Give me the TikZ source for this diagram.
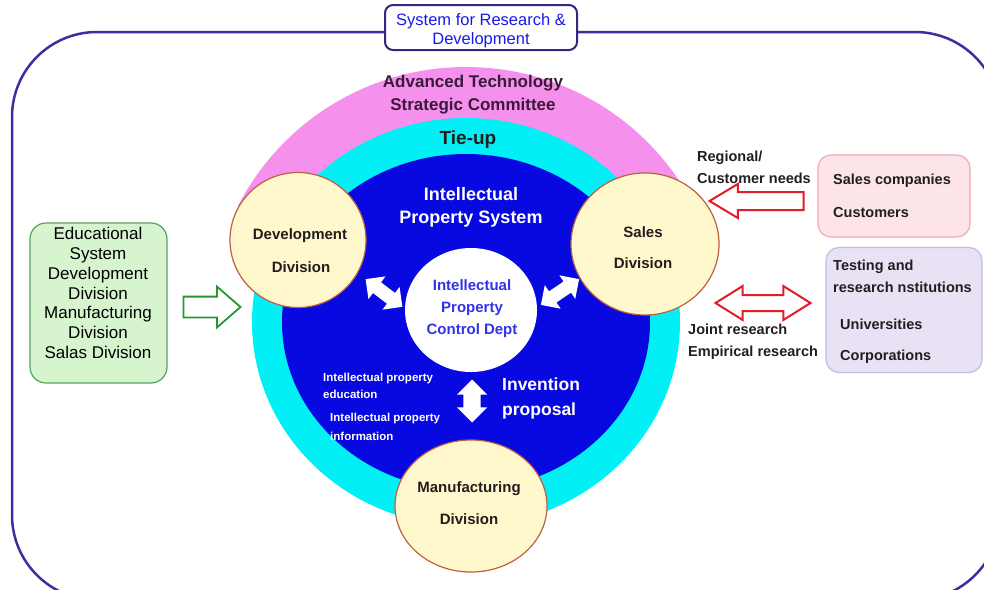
\documentclass[tikz,border=0pt]{standalone}
\usepackage{fontspec}
\setmainfont{Liberation Sans}
\usetikzlibrary{shapes.geometric,shapes.arrows}
\definecolor{framec}{RGB}{58,48,160}
\definecolor{titlec}{RGB}{25,25,235}
\definecolor{titleb}{RGB}{50,40,130}
\definecolor{pinkring}{RGB}{245,145,236}
\definecolor{cyanring}{RGB}{0,240,245}
\definecolor{bluering}{RGB}{8,8,225}
\definecolor{circfill}{RGB}{255,248,205}
\definecolor{circline}{RGB}{190,95,65}
\definecolor{darktext}{RGB}{35,30,30}
\definecolor{advtext}{RGB}{60,25,60}
\definecolor{ctrtext}{RGB}{50,50,235}
\definecolor{arrred}{RGB}{225,30,40}
\definecolor{pinkfill}{RGB}{253,228,232}
\definecolor{pinkline}{RGB}{240,170,178}
\definecolor{lavfill}{RGB}{233,226,245}
\definecolor{lavline}{RGB}{200,185,225}
\definecolor{greenfill}{RGB}{214,245,206}
\definecolor{greenline}{RGB}{90,160,90}
\definecolor{arrgreen}{RGB}{40,150,50}
\begin{document}
\begin{tikzpicture}[x=1pt,y=-1pt,
  circ/.style={ellipse, draw=circline, fill=circfill, line width=1.2pt, inner sep=0pt},
  bt/.style={font=\bfseries\fontsize{15}{18}\selectfont, text=darktext, inner sep=0pt},
  sidet/.style={font=\bfseries\fontsize{14.5}{22}\selectfont, text=darktext, inner sep=0pt, align=left, anchor=west},
  whitet/.style={font=\bfseries\fontsize{18}{23}\selectfont, text=white, inner sep=0pt, align=center},
  smallwt/.style={font=\bfseries\fontsize{11.5}{17}\selectfont, text=white, inner sep=0pt, align=left, anchor=west},
  whitearr/.style={double arrow, fill=white, draw=none, inner xsep=0pt, inner ysep=6.5pt,
     double arrow head extend=7.5pt, double arrow tip angle=90, minimum height=46pt},
  boxstyle/.style={rounded corners=13pt, line width=1.2pt, inner sep=0pt}
]
\useasboundingbox (0,0) rectangle (984,589);
% outer frame
\begin{scope}
\clip (0,0) rectangle (984,589);
\draw[framec, line width=2.5pt, rounded corners=85pt] (12,32) rectangle (1000,600);
\end{scope}
% rings
\begin{scope}
\clip (0,0) rectangle (984,205);
\fill[pinkring] (466,322) ellipse [x radius=256pt, y radius=255pt];
\end{scope}
\fill[cyanring] (466,322) ellipse [x radius=214pt, y radius=204pt];
\fill[bluering] (466,322) ellipse [x radius=184pt, y radius=168pt];
% centre
\node[ellipse, fill=white, inner sep=0pt, minimum width=132pt, minimum height=124pt] (ctr) at (471,310) {};
\node[font=\bfseries\fontsize{15}{22}\selectfont, text=ctrtext, align=center, inner sep=0pt] (ctrt) at (472,309) {Intellectual\\Property\\Control Dept};
% white arrows
\node[whitearr, rotate=-37] (a1) at (384,293) {};
\node[whitearr, rotate=34] (a2) at (560,292) {};
\node[whitearr, rotate=90, inner ysep=8.5pt, double arrow head extend=6.5pt, double arrow tip angle=90, minimum height=43pt] (a3) at (472,401) {};
% division circles
\node[circ, minimum width=136pt, minimum height=135pt] (dev) at (298,240) {};
\node[circ, minimum width=148pt, minimum height=142pt] (sales) at (645,244) {};
\node[circ, minimum width=152pt, minimum height=132pt] (manu) at (471,506) {};
\node[bt] (devt1) at (300,236) {Development};
\node[bt] (devt2) at (301,267) {Division};
\node[bt] (salt1) at (643,232) {Sales};
\node[bt] (salt2) at (643,263) {Division};
\node[bt] (mant1) at (469,489) {Manufacturing};
\node[bt] (mant2) at (469,519) {Division};
% ring texts
\node[font=\bfseries\fontsize{17}{23}\selectfont, text=advtext, align=center, inner sep=0pt] (adv) at (473,95) {Advanced Technology\\Strategic Committee};
\node[font=\bfseries\fontsize{19}{23}\selectfont, text=darktext, inner sep=0pt] (tie) at (468,140) {Tie-up};
\node[whitet] (ips) at (471,207) {Intellectual\\Property System};
\node[smallwt] (ipe) at (323,386) {Intellectual property\\education};
\node[smallwt, font=\bfseries\fontsize{11.5}{19}\selectfont] (ipi) at (330,427) {Intellectual property\\information};
\node[whitet, align=left, anchor=west, font=\bfseries\fontsize{17.5}{25}\selectfont] (inv) at (502,398) {Invention\\proposal};
% right side
\node[sidet] (needs) at (697,167) {Regional/\\Customer needs};
\node[draw=pinkline, fill=pinkfill, boxstyle, minimum width=152pt, minimum height=82pt] (pbox) at (894,196) {};
\node[sidet, font=\bfseries\fontsize{14.5}{33}\selectfont] (pboxt) at (833,196) {Sales companies\\Customers};
\node[draw=lavline, fill=lavfill, boxstyle, minimum width=156pt, minimum height=125pt] (lbox) at (904,310) {};
\node[sidet] (lt1) at (833,276) {Testing and\\research nstitutions};
\node[sidet, font=\bfseries\fontsize{14.5}{31}\selectfont] (lt2) at (840,341) {Universities\\Corporations};
\node[sidet] (joint) at (688,342) {Joint research\\Empirical research};
\node[single arrow, shape border rotate=180, draw=arrred, fill=white, line width=2pt,
      inner xsep=0pt, inner ysep=8pt, single arrow head extend=8pt, single arrow tip angle=62,
      minimum height=94pt] (needarr) at (764,201) {};
\node[double arrow, draw=arrred, fill=white, line width=2pt,
      inner xsep=0pt, inner ysep=7pt, double arrow head extend=9pt, double arrow tip angle=64,
      minimum height=95pt] (jointarr) at (763,303) {};
% left side
\node[draw=greenline, fill=greenfill, rounded corners=16pt, line width=1.2pt, minimum width=137pt, minimum height=160pt] (gbox) at (98.5,303) {};
\node[font=\fontsize{17}{19.8}\selectfont, text=black, align=center, inner sep=0pt] (gboxt) at (98,293) {Educational\\System\\Development\\Division\\Manufacturing\\Division\\Salas Division};
\node[single arrow, draw=arrgreen, fill=white, line width=1.8pt,
      inner xsep=0pt, inner ysep=9.5pt, single arrow head extend=10pt, single arrow tip angle=82,
      minimum height=57pt] (garr) at (206,307) {};
% title
\node[draw=titleb, fill=white, rounded corners=8pt, line width=2pt, minimum width=192pt, minimum height=45pt] (title) at (481,27.5) {};
\node[font=\fontsize{16.5}{19}\selectfont, text=titlec, align=center, inner sep=0pt] (titlet) at (481,31) {System for Research \&\\Development};
\end{tikzpicture}
\end{document}
